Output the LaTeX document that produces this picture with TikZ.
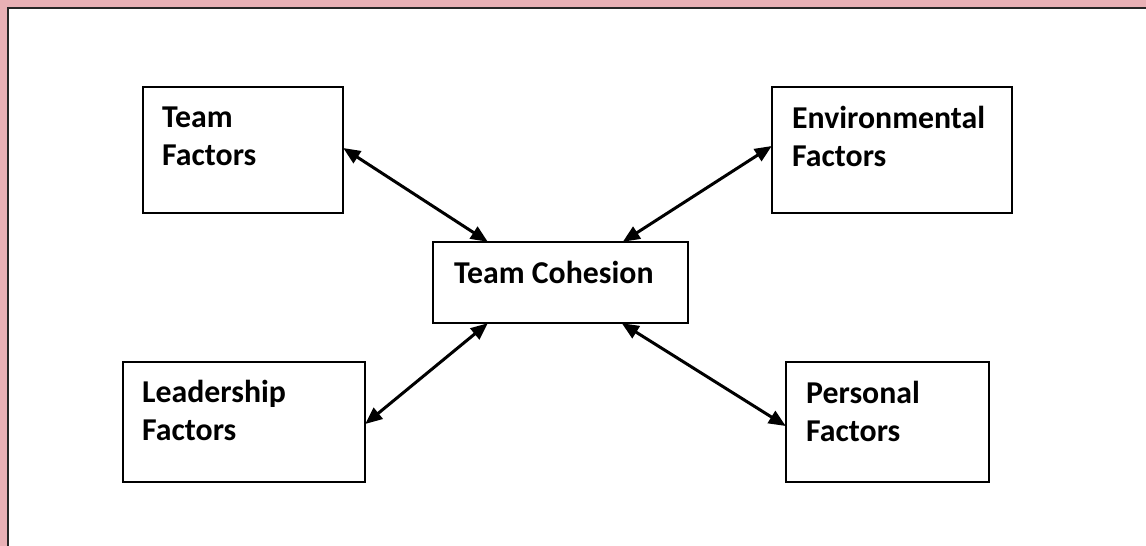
\documentclass[tikz,border=0pt]{standalone}
\usepackage{fontspec}
\setmainfont{Carlito}
\usetikzlibrary{arrows.meta}
\definecolor{framepink}{RGB}{232,176,181}
\tikzset{
  factorbox/.style={draw=black, line width=2.2pt, fill=white},
  boxtext/.style={anchor=north west, inner sep=0pt, align=left,
    font=\fontsize{31.8}{37.5}\selectfont\bfseries},
  link/.style={line width=3pt, {Triangle[length=17pt,width=14pt]}-{Triangle[length=17pt,width=14pt]}}
}
\begin{document}
\begin{tikzpicture}[x=1pt,y=-1pt]
\useasboundingbox (0,0) rectangle (1146,546);
\fill[framepink] (0,0) rectangle (1146,546);
\fill[white] (8,8) rectangle (1146,546);
\draw[line width=2.2pt, black!85] (8,546) -- (8,8) -- (1146,8);
% boxes
\draw[factorbox] (143,87) rectangle (343,213);
\draw[factorbox] (772,87) rectangle (1012,213);
\draw[factorbox] (433,242) rectangle (688,323);
\draw[factorbox] (123,362) rectangle (365,482);
\draw[factorbox] (786,362) rectangle (989,482);
% named anchor nodes for boxes
\node[inner sep=0pt, minimum width=200pt, minimum height=126pt] (team) at (243,150) {};
\node[inner sep=0pt, minimum width=240pt, minimum height=126pt] (env) at (892,150) {};
\node[inner sep=0pt, minimum width=255pt, minimum height=81pt] (coh) at (560.5,282.5) {};
\node[inner sep=0pt, minimum width=242pt, minimum height=120pt] (lead) at (244,422) {};
\node[inner sep=0pt, minimum width=203pt, minimum height=120pt] (pers) at (887.5,422) {};
% texts
\node[boxtext] (tteam) at (162,107) {Team\\Factors};
\node[boxtext] (tenv) at (792,106) {Environmental\\Factors};
\node[boxtext] (tcoh) at (454,261) {Team Cohesion};
\node[boxtext] (tlead) at (142,380) {Leadership\\Factors};
\node[boxtext] (tpers) at (806,381) {Personal\\Factors};
% connectors
\draw[link] ([yshift=2pt]team.east) -- ([xshift=55pt]coh.north west);
\draw[link] ([yshift=4pt]env.west) -- ([xshift=190pt]coh.north west);
\draw[link] ([yshift=-2pt]lead.east) -- ([xshift=55pt]coh.south west);
\draw[link] ([yshift=-4pt]pers.west) -- ([xshift=189pt]coh.south west);
\end{tikzpicture}
\end{document}
